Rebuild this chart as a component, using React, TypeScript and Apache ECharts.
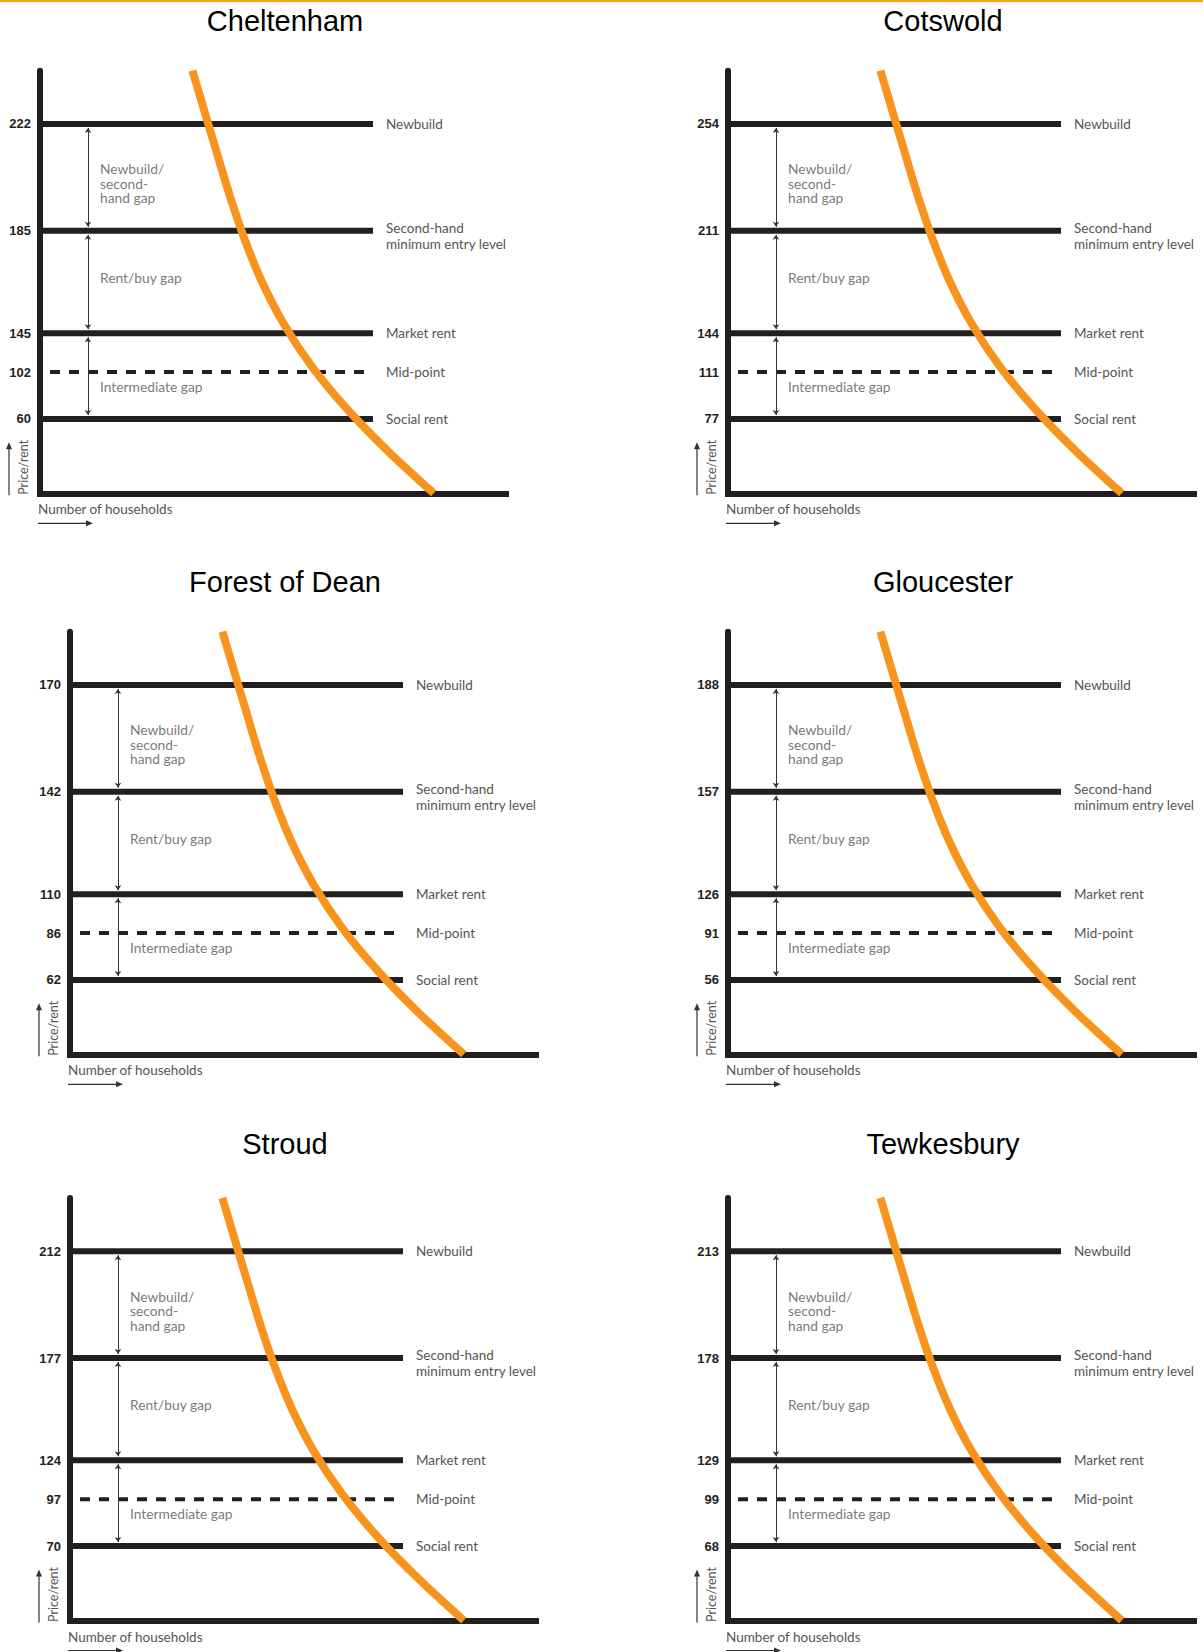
import React, { useEffect, useRef } from "react";
import * as echarts from "echarts";

// ---------- DATA ----------
const REGIONS = ["Cheltenham", "Cotswold", "Forest of Dean", "Gloucester", "Stroud", "Tewkesbury"];

const LEVEL_NAMES = [
  "Newbuild",
  "Second-hand\nminimum entry level",
  "Market rent",
  "Mid-point",
  "Social rent",
];

// Weekly price / rent at each level (Newbuild, Second-hand, Market rent, Mid-point, Social rent)
const CHELTENHAM = [222, 185, 145, 102, 60];
const COTSWOLD = [254, 211, 144, 111, 77];
const FOREST_OF_DEAN = [170, 142, 110, 86, 62];
const GLOUCESTER = [188, 157, 126, 91, 56];
const STROUD = [212, 177, 124, 97, 70];
const TEWKESBURY = [213, 178, 129, 99, 68];
const LEVEL_VALUES = [CHELTENHAM, COTSWOLD, FOREST_OF_DEAN, GLOUCESTER, STROUD, TEWKESBURY];

// Schematic (not-to-scale) position of each level on a 0-100 price/rent scale
const LEVEL_SLOTS = [87.4, 62.1, 37.9, 28.7, 17.6];

// Schematic demand curve: [number of households, price/rent], 0-100 scales
const DEMAND_CURVE = [
  [32.7, 100],
  [35.4, 90],
  [38.1, 80],
  [40.85, 70],
  [43.95, 60],
  [47.65, 50],
  [52.35, 40],
  [58.35, 30],
  [65.85, 20],
  [74.65, 10],
  [84.5, 0],
];

const GAP_LABELS = ["Newbuild/\nsecond-\nhand gap", "Rent/buy gap", "Intermediate gap"];

// ---------- LAYOUT ----------
const PANEL_ORIGINS = [
  [40, 493.3],
  [728, 493.3],
  [70, 1054.3],
  [728, 1054.3],
  [70, 1620.5],
  [728, 1620.5],
];
const TITLE_POS = [
  [285, 21],
  [943, 21],
  [285, 582],
  [943, 582],
  [285, 1144],
  [943, 1144],
];
const PLOT_W = 466;
const PLOT_H = 422.6;
const UX = PLOT_W / 100;
const UY = PLOT_H / 100;

const INK = "#231f20";
const GREY = "#555555";
const ORANGE = "#F7941E";
const LABEL_FONT = "Lato";

export default function App() {
  const ref = useRef<HTMLDivElement>(null);

  useEffect(() => {
    document.body.style.margin = "0";
    if (!ref.current) return;
    const chart = echarts.init(ref.current, undefined, { renderer: "svg" });

    const grids: any[] = [];
    const xAxes: any[] = [];
    const yAxes: any[] = [];
    const series: any[] = [];
    const titles: any[] = [];
    const graphics: any[] = [
      { type: "rect", shape: { x: 0, y: 0, width: 1203, height: 2 }, style: { fill: "#F9A01B" } },
    ];

    REGIONS.forEach((name, i) => {
      const [ax, ay] = PANEL_ORIGINS[i];
      const values = LEVEL_VALUES[i];

      titles.push({
        text: name,
        left: TITLE_POS[i][0],
        top: TITLE_POS[i][1],
        textAlign: "center",
        textVerticalAlign: "middle",
        padding: 0,
        textStyle: { fontFamily: "Liberation Sans", fontSize: 29, fontWeight: "normal", color: "#000" },
      });

      grids.push({
        left: ax,
        top: ay - PLOT_H,
        width: PLOT_W,
        height: PLOT_H,
        containLabel: false,
        outerBoundsMode: "none",
      });

      xAxes.push({
        gridIndex: i,
        type: "value",
        min: 0,
        max: 100,
        axisLine: { show: true, onZero: false, lineStyle: { color: INK, width: 6, cap: "square" } },
        axisTick: { show: false },
        axisLabel: { show: false },
        splitLine: { show: false },
      });

      yAxes.push({
        gridIndex: i,
        type: "value",
        min: 0,
        max: 100,
        axisLine: { show: true, onZero: false, lineStyle: { color: INK, width: 6 } },
        axisTick: { show: false },
        splitLine: { show: false },
        axisLabel: {
          show: true,
          customValues: LEVEL_SLOTS,
          formatter: (v: number) => {
            let best = 0;
            LEVEL_SLOTS.forEach((s, k) => {
              if (Math.abs(s - v) < Math.abs(LEVEL_SLOTS[best] - v)) best = k;
            });
            return String(values[best]);
          },
          fontFamily: "Liberation Sans",
          fontWeight: "bold",
          fontSize: 13,
          color: INK,
          margin: 9,
        },
      });

      // Level lines
      LEVEL_SLOTS.forEach((slot, j) => {
        const dashed = j === 3;
        const x0 = dashed ? 10 / UX : 0;
        const x1 = dashed ? 330 / UX : 333 / UX;
        series.push({
          type: "line",
          xAxisIndex: i,
          yAxisIndex: i,
          data: [
            [x0, slot],
            [x1, slot],
          ],
          symbol: "none",
          clip: false,
          silent: true,
          z: 2,
          lineStyle: { width: dashed ? 4 : 6, color: INK, type: dashed ? [10, 9] : "solid", cap: "butt" },
          endLabel: {
            show: true,
            formatter: () => LEVEL_NAMES[j],
            distance: dashed ? 16 : 13,
            offset: [0, j === 1 ? 5 : 0],
            color: GREY,
            fontFamily: LABEL_FONT,
            fontSize: 13.5,
            lineHeight: 16,
          },
        });
      });

      // Demand curve
      series.push({
        type: "line",
        xAxisIndex: i,
        yAxisIndex: i,
        data: DEMAND_CURVE,
        smooth: 0.3,
        symbol: "none",
        clip: false,
        silent: true,
        z: 5,
        lineStyle: { width: 8, color: ORANGE, cap: "butt" },
      });

      // Gap arrows
      const pad = 4 / UY;
      const arrowX = 48 / UX;
      series.push({
        type: "lines",
        coordinateSystem: "cartesian2d",
        xAxisIndex: i,
        yAxisIndex: i,
        symbol: ["arrow", "arrow"],
        symbolSize: 5,
        silent: true,
        z: 3,
        lineStyle: { width: 1, color: "#333", opacity: 1 },
        data: [
          { coords: [[arrowX, LEVEL_SLOTS[0] - pad], [arrowX, LEVEL_SLOTS[1] + pad]] },
          { coords: [[arrowX, LEVEL_SLOTS[1] - pad], [arrowX, LEVEL_SLOTS[2] + pad]] },
          { coords: [[arrowX, LEVEL_SLOTS[2] - pad], [arrowX, LEVEL_SLOTS[4] + pad]] },
        ],
      });

      // Gap labels
      const labelX = 60 / UX;
      series.push({
        type: "scatter",
        xAxisIndex: i,
        yAxisIndex: i,
        symbolSize: 0,
        silent: true,
        clip: false,
        z: 4,
        itemStyle: { color: "transparent" },
        label: {
          show: true,
          position: "right",
          distance: 0,
          formatter: (p: any) => p.data[2],
          color: GREY,
          fontFamily: LABEL_FONT,
          fontSize: 13.8,
          lineHeight: 14.5,
        },
        data: [
          [labelX, (LEVEL_SLOTS[0] + LEVEL_SLOTS[1]) / 2 - 6 / UY, GAP_LABELS[0]],
          [labelX, (LEVEL_SLOTS[1] + LEVEL_SLOTS[2]) / 2 + 5 / UY, GAP_LABELS[1]],
          [labelX, LEVEL_SLOTS[3] - 14 / UY, GAP_LABELS[2]],
        ],
      });

      // Axis captions with arrows
      graphics.push(
        {
          type: "text",
          x: ax - 17,
          y: ay - 26,
          rotation: Math.PI / 2,
          style: {
            text: "Price/rent",
            fill: GREY,
            font: `12.5px ${LABEL_FONT}`,
            textAlign: "center",
            textVerticalAlign: "middle",
          },
        },
        {
          type: "line",
          shape: { x1: ax - 31, y1: ay + 2, x2: ax - 31, y2: ay - 45 },
          style: { stroke: "#333", lineWidth: 1.2 },
        },
        {
          type: "polygon",
          shape: { points: [[ax - 31, ay - 51], [ax - 34, ay - 44], [ax - 28, ay - 44]] },
          style: { fill: "#333" },
        },
        {
          type: "text",
          x: ax - 2,
          y: ay + 16,
          style: {
            text: "Number of households",
            fill: GREY,
            font: `13.5px ${LABEL_FONT}`,
            textAlign: "left",
            textVerticalAlign: "middle",
          },
        },
        {
          type: "line",
          shape: { x1: ax - 2, y1: ay + 30, x2: ax + 47, y2: ay + 30 },
          style: { stroke: "#333", lineWidth: 1.2 },
        },
        {
          type: "polygon",
          shape: { points: [[ax + 53, ay + 30], [ax + 46, ay + 27], [ax + 46, ay + 33]] },
          style: { fill: "#333" },
        }
      );
    });

    chart.setOption({
      animation: false,
      backgroundColor: "#ffffff",
      title: titles,
      grid: grids,
      xAxis: xAxes,
      yAxis: yAxes,
      series,
      graphic: graphics,
    });

    return () => {
      chart.dispose();
    };
  }, []);

  return <div ref={ref} style={{ width: 1203, height: 1652 }} />;
}
